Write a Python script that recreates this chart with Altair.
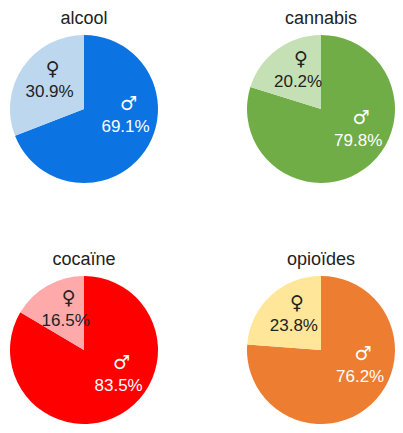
import altair as alt
import pandas as pd

drugs = ["alcool", "cannabis", "cocaïne", "opioïdes"]
male_pct = [69.1, 79.8, 83.5, 76.2]
female_pct = [30.9, 20.2, 16.5, 23.8]
male_colors = ["#0B74E2", "#70AD47", "#FF0000", "#ED7D31"]
female_colors = ["#BDD7EE", "#C5E0B4", "#FFAAAA", "#FFE699"]
sexes = ["homme", "femme"]
symbols = ["♂", "♀"]

color_domain = [f"{d}-{s}" for d in drugs for s in sexes]
color_range = [c for pair in zip(male_colors, female_colors) for c in pair]

SIZE = 148


def pie(i):
    df = pd.DataFrame({
        "sexe": sexes,
        "cle": [f"{drugs[i]}-{s}" for s in sexes],
        "symbole": symbols,
        "pct": [male_pct[i], female_pct[i]],
        "ordre": [0, 1],
    })
    df["label"] = df["pct"].map(lambda v: f"{v:.1f}%")
    base = alt.Chart(df).transform_stack(
        stack="pct", groupby=[], as_=["debut", "fin"],
        sort=[alt.SortField("ordre", order="ascending")],
    ).transform_calculate(milieu="(datum.debut + datum.fin) / 2")
    tscale = alt.Scale(domain=[0, 100])
    arc = base.mark_arc(outerRadius=SIZE / 2).encode(
        theta=alt.Theta("debut:Q", scale=tscale),
        theta2="fin:Q",
        color=alt.Color("cle:N", scale=alt.Scale(domain=color_domain, range=color_range), legend=None),
    )

    def labels(sexe, radius, offset, color):
        sub = base.transform_filter(alt.datum.sexe == sexe)
        sym = sub.mark_text(radius=radius, thetaOffset=offset, dy=-11, dx=3, fontSize=19,
                            font="DejaVu Sans", color=color).encode(
            theta=alt.Theta("milieu:Q", scale=tscale), text="symbole:N")
        pc = sub.mark_text(radius=radius, thetaOffset=offset, dy=12, fontSize=17,
                           font="Liberation Sans", color=color).encode(
            theta=alt.Theta("milieu:Q", scale=tscale), text="label:N")
        return [sym, pc]

    layers = [arc] + labels("homme", 42, -0.45, "white") + labels("femme", 45, 0.1, "#222222")
    return alt.layer(*layers).properties(
        width=SIZE, height=SIZE,
        title=alt.Title(drugs[i], fontSize=18, font="Liberation Sans", fontWeight="normal",
                        offset=7, color="#222222", anchor="middle"),
    )


chart = alt.vconcat(
    alt.hconcat(pie(0), pie(1), spacing=89),
    alt.hconcat(pie(2), pie(3), spacing=89),
    spacing=68,
).properties(
    padding={"left": 2, "top": 2, "right": 0, "bottom": 0}
).configure_view(stroke=None)

chart.save("out.html", embed_options={"renderer": "svg", "actions": False})
